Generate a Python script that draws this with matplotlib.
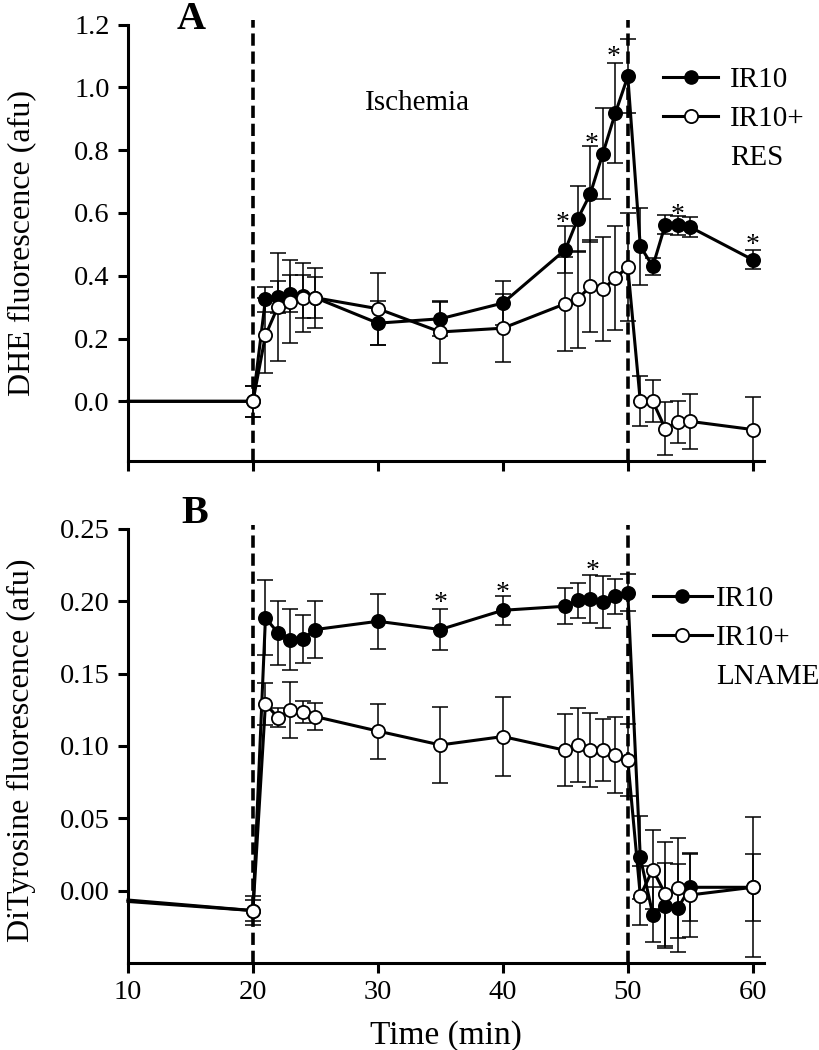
import numpy as np
import matplotlib
matplotlib.use('Agg')
import matplotlib.pyplot as plt
from matplotlib.lines import Line2D

plt.rcParams['font.family'] = ['Liberation Serif', 'DejaVu Serif']
plt.rcParams['font.size'] = 21

# panel A - DHE fluorescence
t_a = [10, 20, 21, 22, 23, 24, 25, 30, 35, 40, 45, 46, 47, 48, 49, 50, 51, 52, 53, 54, 55, 60]
ir10_a = [0.0, 0.0, 0.325, 0.332, 0.343, 0.334, 0.33, 0.249, 0.263, 0.313, 0.483, 0.582,
          0.661, 0.789, 0.918, 1.035, 0.494, 0.43, 0.563, 0.561, 0.555, 0.451]
ir10_a_err = [0, 0.05, 0.04, 0.05, 0.06, 0.07, 0.065, 0.07, 0.055, 0.07, 0.074, 0.105,
              0.152, 0.145, 0.16, 0.118, 0.122, 0.027, 0.03, 0.03, 0.032, 0.03]
res_a = [0.0, 0.0, 0.21, 0.302, 0.318, 0.33, 0.33, 0.295, 0.221, 0.233, 0.311, 0.325,
         0.367, 0.357, 0.393, 0.428, 0.0, 0.0, -0.087, -0.066, -0.064, -0.09]
res_a_err = [0, 0.05, 0.12, 0.172, 0.133, 0.11, 0.096, 0.114, 0.10, 0.108, 0.15, 0.155,
             0.146, 0.166, 0.165, 0.172, 0.08, 0.067, 0.085, 0.067, 0.088, 0.104]
star_a_t = [44.8, 47.1, 48.9, 54, 60]
star_a_y = [0.594, 0.846, 1.123, 0.621, 0.524]

# panel B - DiTyrosine fluorescence
t_b = [10, 20, 21, 22, 23, 24, 25, 30, 35, 40, 45, 46, 47, 48, 49, 50, 51, 52, 53, 54, 55, 60]
ir10_b = [-0.0065, -0.0138, 0.1886, 0.1782, 0.1736, 0.1741, 0.1805, 0.1862, 0.1805, 0.1938,
          0.1966, 0.2007, 0.2019, 0.1996, 0.2034, 0.2058, 0.023, -0.0166, -0.0103, -0.0121,
          0.0023, 0.0023]
ir10_b_err = [0, 0.01, 0.026, 0.022, 0.021, 0.0165, 0.02, 0.019, 0.014, 0.01, 0.0124, 0.012,
              0.0166, 0.0177, 0.0122, 0.0128, 0.0287, 0.019, 0.0297, 0.0303, 0.023, 0.023]
lname_b = [-0.0075, -0.0138, 0.1292, 0.1196, 0.1246, 0.1237, 0.1203, 0.1103, 0.1007, 0.1065,
           0.097, 0.1007, 0.0972, 0.0972, 0.0936, 0.0901, -0.0034, 0.0145, -0.0023, 0.0017,
           -0.003, 0.0023]
lname_b_err = [0, 0.007, 0.0145, 0.0066, 0.0193, 0.0076, 0.0093, 0.019, 0.0262, 0.0274,
               0.0248, 0.0255, 0.0255, 0.0214, 0.0262, 0.0248, 0.0202, 0.0274, 0.036, 0.0345,
               0.0293, 0.0483]
star_b_t = [35, 40, 47.2]
star_b_y = [0.2046, 0.2116, 0.2265]

ischemia_start = 20
ischemia_end = 50


def draw_series(ax, t, y, err, filled):
    face = 'black' if filled else 'white'
    ax.errorbar(t[1:], y[1:], yerr=err[1:], fmt='none', ecolor='black',
                elinewidth=1.1, capsize=5.5, capthick=1.1, zorder=3)
    ax.plot(t, y, '-', color='black', lw=2.2, marker='o', markevery=slice(1, None),
            markersize=9.5, markerfacecolor=face, markeredgecolor='black',
            markeredgewidth=1.3, zorder=4, clip_on=False)


def style_axes(ax):
    for s in ['top', 'right']:
        ax.spines[s].set_visible(False)
    for s in ['left', 'bottom']:
        ax.spines[s].set_linewidth(2.2)
    ax.tick_params(direction='out', length=7, width=2.2, labelsize=20.5)
    ax.tick_params(axis='y', pad=6)
    ax.tick_params(axis='x', pad=5)
    ax.set_xlim(10, 60.9)
    ax.set_xticks([10, 20, 30, 40, 50, 60])
    for x in [ischemia_start, ischemia_end]:
        ax.axvline(x, ymin=0, ymax=1.01, color='black', lw=2.6,
                   linestyle=(0, (3.4, 1.6)), zorder=1, clip_on=False)


def draw_stars(ax, ts, ys):
    for x, y in zip(ts, ys):
        ax.annotate('*', (x, y), xytext=(0, -11), textcoords='offset points',
                    ha='center', va='baseline', fontsize=20)


fig = plt.figure(figsize=(8.2, 10.5), dpi=100)
ax1 = fig.add_axes([0.1561, 0.5610, 0.7756, 0.4155])
ax2 = fig.add_axes([0.1561, 0.0829, 0.7756, 0.4133])

# A
style_axes(ax1)
draw_series(ax1, t_a, ir10_a, ir10_a_err, True)
draw_series(ax1, t_a, res_a, res_a_err, False)
draw_stars(ax1, star_a_t, star_a_y)
ax1.set_ylim(-0.19, 1.2)
ax1.set_yticks([0.0, 0.2, 0.4, 0.6, 0.8, 1.0, 1.2])
ax1.set_yticklabels(['0.0', '0.2', '0.4', '0.6', '0.8', '1.0', '1.2'])
ax1.tick_params(axis='x', labelbottom=False)
ax1.set_ylabel('DHE fluorescence (afu)', fontsize=23)
ax1.yaxis.set_label_coords(-0.145, 0.5)
ax1.text(33.2, 0.95, 'Ischemia', ha='center', va='center', fontsize=21)
ax1.text(0.10, 1.011, 'A', transform=ax1.transAxes, fontsize=29, fontweight='bold',
         ha='center', va='center')

h1 = Line2D([], [], color='black', lw=2.2, marker='o', markersize=9.5,
            markerfacecolor='black', markeredgecolor='black')
h2 = Line2D([], [], color='black', lw=2.2, marker='o', markersize=9.5,
            markerfacecolor='white', markeredgecolor='black', markeredgewidth=1.3)
h3 = Line2D([], [], linestyle='none')
ax1.legend([h1, h2, h3], ['IR10', 'IR10+', 'RES'], loc='upper left',
           bbox_to_anchor=(0.841, 0.903), frameon=False, borderpad=0, borderaxespad=0,
           handlelength=1.9, handletextpad=0.4, labelspacing=0.42)

# B
style_axes(ax2)
draw_series(ax2, t_b, ir10_b, ir10_b_err, True)
draw_series(ax2, t_b, lname_b, lname_b_err, False)
draw_stars(ax2, star_b_t, star_b_y)
ax2.set_ylim(-0.05, 0.25)
ax2.set_yticks([0.0, 0.05, 0.10, 0.15, 0.20, 0.25])
ax2.set_yticklabels(['0.00', '0.05', '0.10', '0.15', '0.20', '0.25'])
ax2.set_xlabel('Time (min)', fontsize=24, labelpad=11)
ax2.set_ylabel('DiTyrosine fluorescence (afu)', fontsize=23)
ax2.yaxis.set_label_coords(-0.145, 0.49)
ax2.text(0.105, 1.035, 'B', transform=ax2.transAxes, fontsize=29, fontweight='bold',
         ha='center', va='center')
ax2.legend([h1, h2, h3], ['IR10', 'IR10+', 'LNAME'], loc='upper left',
           bbox_to_anchor=(0.826, 0.869), frameon=False, borderpad=0, borderaxespad=0,
           handlelength=2.0, handletextpad=0.15, labelspacing=0.42)

fig.savefig('out.png', dpi=100)
